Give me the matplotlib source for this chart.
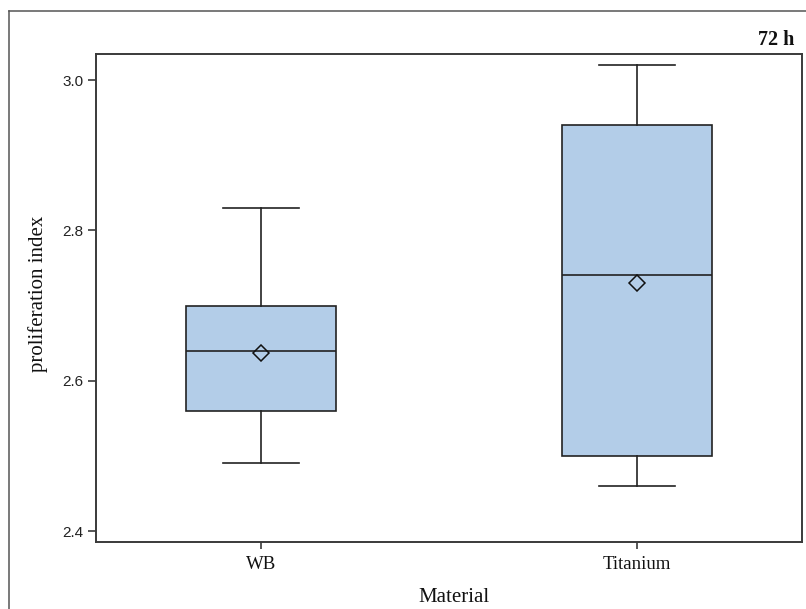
import matplotlib
matplotlib.use("Agg")
import matplotlib.pyplot as plt
from matplotlib.lines import Line2D

# summary statistics per material (72 h)
materials = ["WB", "Titanium"]
lower_whisker = [2.49, 2.46]
q1 = [2.56, 2.50]
medians = [2.64, 2.74]
means = [2.637, 2.73]
q3 = [2.70, 2.94]
upper_whisker = [2.83, 3.02]

yticks = [2.4, 2.6, 2.8, 3.0]

serif = "Liberation Serif"
sans = "Liberation Sans"

stats = []
for i, name in enumerate(materials):
    stats.append(dict(label=name, whislo=lower_whisker[i], q1=q1[i],
                      med=medians[i], mean=means[i], q3=q3[i],
                      whishi=upper_whisker[i], fliers=[]))

fig = plt.figure(figsize=(8.06, 6.09), dpi=100)
ax = fig.add_axes([96 / 806, 1 - 542 / 609, 706 / 806, 488 / 609])

line_col = "#222222"
bp = ax.bxp(stats, positions=[1, 2], widths=0.4, capwidths=0.2,
            patch_artist=True, showmeans=True,
            boxprops=dict(facecolor="#b3cde8", edgecolor=line_col, linewidth=1.2),
            medianprops=dict(color=line_col, linewidth=1.2),
            whiskerprops=dict(color=line_col, linewidth=1.2),
            capprops=dict(color=line_col, linewidth=1.2),
            meanprops=dict(marker="D", markerfacecolor="none",
                           markeredgecolor="#111111", markersize=8,
                           markeredgewidth=1.1))

ax.set_xlim(0.561, 2.439)
ax.set_ylim(2.3854, 3.0346)
ax.set_yticks(yticks)
ax.set_yticklabels([f"{v:.1f}" for v in yticks], fontfamily=sans,
                   fontsize=11, color="#222222")
ax.set_xticks([1, 2])
ax.set_xticklabels(materials, fontfamily=serif, fontsize=13.5, color="#111111")

for sp in ax.spines.values():
    sp.set_color("#3a3a3a")
    sp.set_linewidth(1.4)
ax.tick_params(axis="both", width=1.2, color="#3a3a3a")
ax.tick_params(axis="y", length=6, pad=3)
ax.tick_params(axis="x", length=5, pad=5)

fig.text(454 / 806, 1 - 601.5 / 609, "Material", family=serif, fontsize=15,
         ha="center", va="baseline", color="#111111")
fig.text(38.5 / 806, 1 - 294 / 609, "proliferation index", family=serif,
         fontsize=15, rotation=90, ha="center", va="center", color="#111111")
fig.text(794 / 806, 1 - 45 / 609, "72 h", family=serif, fontsize=14.5,
         fontweight="bold", ha="right", va="baseline", color="#111111")

# outer frame (left and top edges)
fx, fy = 9 / 806, 1 - 11 / 609
fig.add_artist(Line2D([fx, fx], [0, fy], color="#555555", linewidth=1.1))
fig.add_artist(Line2D([fx, 1], [fy, fy], color="#555555", linewidth=1.1))

fig.savefig("out.png", dpi=100)
